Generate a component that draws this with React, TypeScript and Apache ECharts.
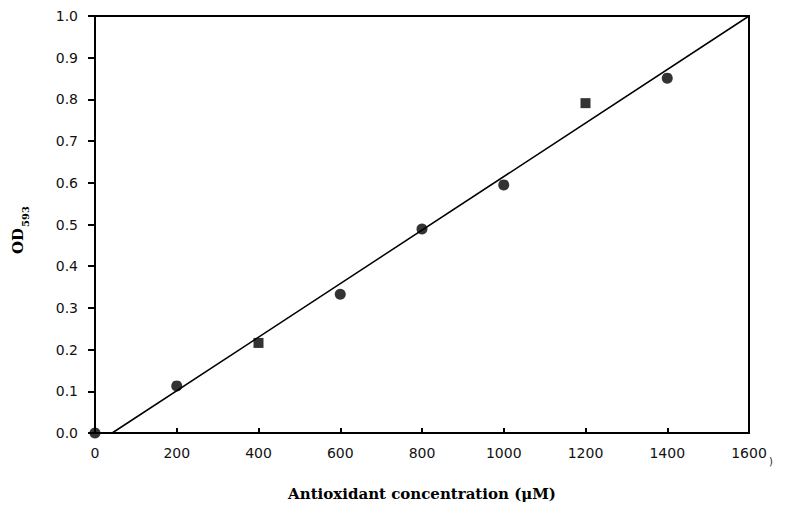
import React, { useEffect, useRef } from "react";
import * as echarts from "echarts";

const concentrations = [0, 200, 400, 600, 800, 1000, 1200, 1400];
const od593 = [0, 0.113, 0.216, 0.333, 0.489, 0.595, 0.791, 0.851];
const markerShapes = ["circle", "circle", "rect", "circle", "circle", "circle", "rect", "circle"];
const fitLineX = [42, 1600];
const fitLineY = [0, 1.0];
const xTicks = { min: 0, max: 1600, interval: 200 };
const yTicks = { min: 0, max: 1.0, interval: 0.1 };

export default function App() {
  const ref = useRef<HTMLDivElement>(null);
  useEffect(() => {
    if (!ref.current) return;
    const chart = echarts.init(ref.current, undefined, { renderer: "svg" });
    const labelFont = { color: "#111", fontFamily: "DejaVu Sans, sans-serif", fontSize: 14 };
    chart.setOption({
      animation: false,
      backgroundColor: "#fff",
      grid: { left: 95, right: 45, top: 16, bottom: 84, show: true, borderColor: "#000", borderWidth: 2, backgroundColor: "transparent" },
      xAxis: {
        type: "value",
        min: xTicks.min,
        max: xTicks.max,
        interval: xTicks.interval,
        splitLine: { show: false },
        axisLine: { show: true, lineStyle: { color: "#000", width: 2 } },
        axisTick: { show: true, inside: true, length: 5, lineStyle: { color: "#000", width: 2 } },
        axisLabel: { ...labelFont, margin: 13, formatter: (v: number) => String(v) },
        name: "Antioxidant concentration (μM)",
        nameLocation: "middle",
        nameGap: 53,
        nameTextStyle: { color: "#000", fontFamily: "DejaVu Serif, serif", fontWeight: "bold", fontSize: 15 },
      },
      yAxis: {
        type: "value",
        min: yTicks.min,
        max: yTicks.max,
        interval: yTicks.interval,
        splitLine: { show: false },
        axisLine: { show: true, lineStyle: { color: "#000", width: 2 } },
        axisTick: { show: true, inside: false, length: 7, lineStyle: { color: "#000", width: 2 } },
        axisLabel: { ...labelFont, margin: 17, formatter: (v: number) => v.toFixed(1) },
      },
      graphic: [
        {
          type: "group",
          x: 25,
          y: 254,
          rotation: Math.PI / 2,
          children: [
            { type: "text", x: 0, y: 0, style: { text: "OD", font: "bold 15px 'DejaVu Serif', serif", fill: "#000", textVerticalAlign: "bottom" } },
            { type: "text", x: 27, y: 5, style: { text: "593", font: "bold 10px 'DejaVu Serif', serif", fill: "#000", textVerticalAlign: "bottom" } },
          ],
        },
        { type: "text", left: 769, top: 456, style: { text: ")", font: "10px 'DejaVu Sans', sans-serif", fill: "#223" } },
      ],
      series: [
        {
          type: "line",
          data: fitLineX.map((x, i) => [x, fitLineY[i]]),
          symbol: "none",
          lineStyle: { color: "#000", width: 1.5 },
          z: 2,
        },
        {
          type: "scatter",
          data: concentrations.map((x, i) => ({ value: [x, od593[i]], symbol: markerShapes[i], symbolSize: markerShapes[i] === "rect" ? 10 : 11 })),
          itemStyle: { color: "#000" },
          z: 3,
        },
      ],
    });
    return () => chart.dispose();
  }, []);
  return <div ref={ref} style={{ position: "fixed", left: 0, top: 0, width: 794, height: 517 }} />;
}
